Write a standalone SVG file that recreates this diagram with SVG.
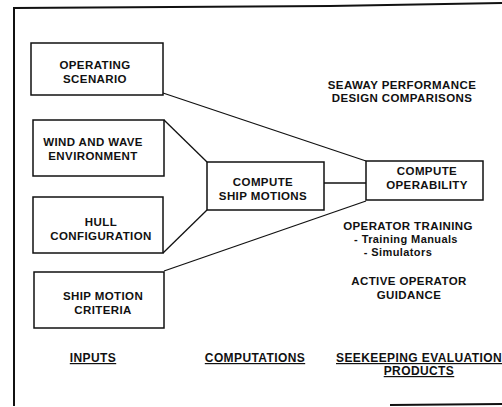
<svg xmlns="http://www.w3.org/2000/svg" width="502" height="407" viewBox="0 0 502 407">
<style>
.box{fill:#fff;stroke:#111;stroke-width:1.5}
.t{font-family:"Liberation Sans",Arial,sans-serif;font-weight:bold;font-size:11.5px;letter-spacing:0.4px;fill:#111;text-anchor:middle}
.s{font-size:11px}
.u{text-decoration:underline;font-size:12px}
.c{stroke:#111;stroke-width:1.3;fill:none}
</style>
<rect width="502" height="407" fill="#fff"/>
<g id="frame" fill="none" stroke="#111" stroke-width="2">
<path d="M14 406 L14 8 L330 6 L502 3"/>
<path d="M390 405 L502 404"/>
</g>
<g id="connectors">
<line class="c" x1="163" y1="93" x2="366" y2="161"/>
<line class="c" x1="164" y1="120" x2="207" y2="162"/>
<line class="c" x1="163" y1="253" x2="207" y2="210"/>
<line class="c" x1="324" y1="183" x2="366" y2="183"/>
<line class="c" x1="164" y1="271" x2="366" y2="201"/>
</g>
<g id="operating-scenario">
<rect class="box" x="31" y="43" width="132" height="52"/>
<text class="t" x="95" y="69">OPERATING</text>
<text class="t" x="95" y="83">SCENARIO</text>
</g>
<g id="wind-wave">
<rect class="box" x="33" y="120" width="131" height="56"/>
<text class="t" x="93" y="146">WIND AND WAVE</text>
<text class="t" x="93" y="160">ENVIRONMENT</text>
</g>
<g id="hull">
<rect class="box" x="33" y="197" width="130" height="56"/>
<text class="t" x="101" y="226">HULL</text>
<text class="t" x="101" y="240">CONFIGURATION</text>
</g>
<g id="criteria">
<rect class="box" x="34" y="272" width="130" height="56"/>
<text class="t" x="103" y="300">SHIP MOTION</text>
<text class="t" x="103" y="314">CRITERIA</text>
</g>
<g id="ship-motions">
<rect class="box" x="207" y="162" width="117" height="48"/>
<text class="t" x="263" y="186">COMPUTE</text>
<text class="t" x="263" y="200">SHIP MOTIONS</text>
</g>
<g id="operability">
<rect class="box" x="366" y="161" width="117" height="39"/>
<text class="t" x="427" y="175">COMPUTE</text>
<text class="t" x="427" y="189">OPERABILITY</text>
</g>
<g id="products">
<text class="t" x="402" y="89">SEAWAY PERFORMANCE</text>
<text class="t" x="402" y="102">DESIGN COMPARISONS</text>
<text class="t" x="408" y="230">OPERATOR TRAINING</text>
<text class="t s" x="406" y="243">- Training Manuals</text>
<text class="t s" x="398" y="256">-  Simulators</text>
<text class="t" x="409" y="285">ACTIVE OPERATOR</text>
<text class="t" x="409" y="299">GUIDANCE</text>
</g>
<g id="labels">
<text class="t u" x="93" y="362">INPUTS</text>
<text class="t u" x="255" y="362">COMPUTATIONS</text>
<text class="t u" x="419" y="362">SEEKEEPING EVALUATION</text>
<text class="t u" x="419" y="375">PRODUCTS</text>
</g>
</svg>
